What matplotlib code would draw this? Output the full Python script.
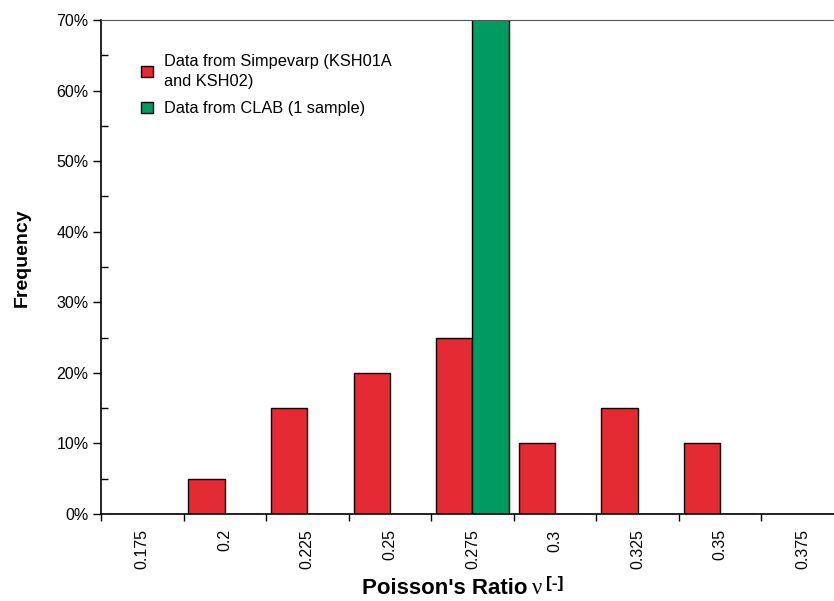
import numpy as np
import matplotlib
matplotlib.use('Agg')
import matplotlib.pyplot as plt
from matplotlib.ticker import FixedLocator, PercentFormatter

plt.rcParams['font.family'] = ['Liberation Sans', 'DejaVu Sans']

categories = ['0.175', '0.2', '0.225', '0.25', '0.275', '0.3', '0.325', '0.35', '0.375']
simpevarp = [0, 5, 15, 20, 25, 10, 15, 10, 0]
clab = [0, 0, 0, 0, 100, 0, 0, 0, 0]

red = '#e42a33'
green = '#009a63'

W, H = 834, 601
fig = plt.figure(figsize=(W/100, H/100), dpi=100)
ax = fig.add_axes([101/W, 87/H, 733/W, 494/H])

x = np.arange(len(categories))
w = 0.44
ax.bar(x - w/2, simpevarp, width=w, color=red, edgecolor='black', linewidth=1.0,
       label='Data from Simpevarp (KSH01A\nand KSH02)')
ax.bar(x + w/2, clab, width=w, color=green, edgecolor='black', linewidth=1.0,
       label='Data from CLAB (1 sample)')

ax.set_ylim(0, 70)
ax.set_xlim(-0.5, 8.38)
ax.yaxis.set_major_locator(FixedLocator(np.arange(0, 71, 10)))
ax.yaxis.set_minor_locator(FixedLocator(np.arange(5, 70, 10)))
ax.yaxis.set_major_formatter(PercentFormatter(decimals=0))
ax.tick_params(axis='y', which='major', direction='out', length=6, width=1, labelsize=11.5, pad=3)
ax.tick_params(axis='y', which='minor', direction='in', length=5, width=1)

# category ticks sit on the boundaries, labels in the middle
ax.set_xticks(x - 0.5)
ax.set_xticklabels([])
ax.set_xticks(x, minor=True)
ax.set_xticklabels(categories, minor=True, rotation=90, fontsize=11.5)
ax.tick_params(axis='x', which='major', direction='out', length=5, width=1)
ax.tick_params(axis='x', which='minor', length=0, pad=11)

ax.spines['right'].set_visible(False)
ax.spines['top'].set_color('#555555')
ax.spines['left'].set_linewidth(1.2)
ax.spines['bottom'].set_linewidth(1.2)

fig.text(22/W, 1 - 258/H, 'Frequency', rotation=90, fontsize=14, fontweight='bold',
         ha='center', va='center')

# x label in three pieces: bold text, plain serif nu, raised bold unit
fig.text(528/W, 7/H, "Poisson's Ratio", fontsize=16, fontweight='bold',
         ha='right', va='baseline')
fig.text(532/W, 7/H, 'ν', fontsize=16.5, family='Liberation Serif', ha='left', va='baseline')
fig.text(546/W, 13/H, '[-]', fontsize=12.5, fontweight='bold', ha='left', va='baseline')

leg = ax.legend(loc='upper left', bbox_to_anchor=(0.035, 0.962), frameon=False, fontsize=11.8,
                handlelength=0.7, handleheight=0.7, handletextpad=0.7, labelspacing=0.75)
for t in leg.get_texts():
    t.set_linespacing(1.45)

fig.savefig('out.png', dpi=100)
